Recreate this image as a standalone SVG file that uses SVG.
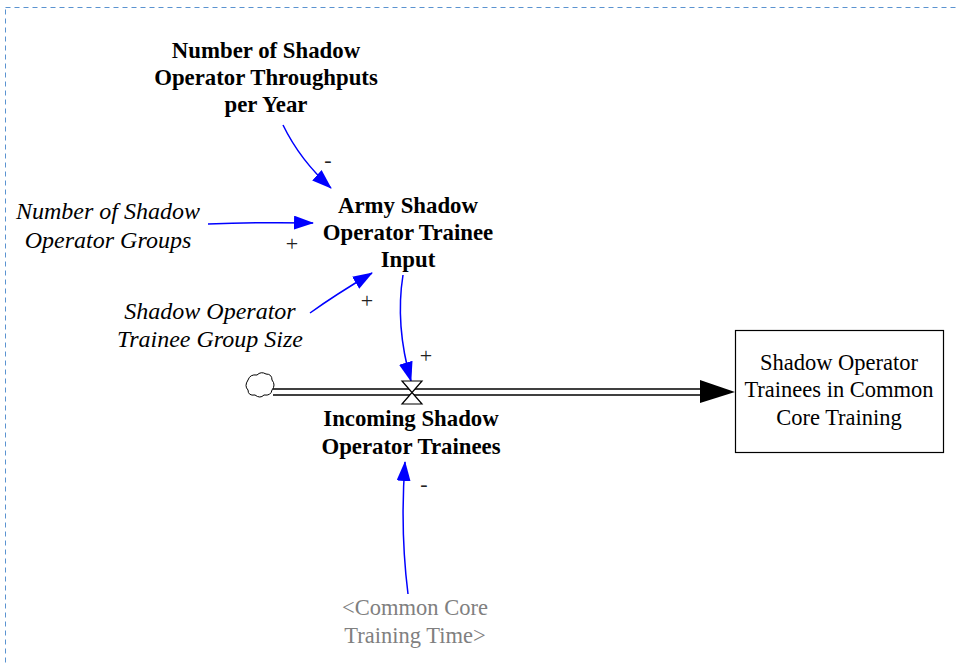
<svg xmlns="http://www.w3.org/2000/svg" width="956" height="664" viewBox="0 0 956 664">
<style>
text{font-family:"Liberation Serif","Times New Roman",serif;font-size:22.5px;text-anchor:middle;fill:#000}
.b{font-weight:bold;font-size:22.8px}
.i{font-style:italic;font-size:24px}
.g{fill:#808080}
.pol{font-family:"Liberation Serif","Times New Roman",serif;font-size:22px;fill:#222}
.lk{fill:none;stroke:#0000ff;stroke-width:1.5}
.pipe{fill:none;stroke:#000;stroke-width:1.3}
</style>
<defs>
<marker id="ah" markerWidth="20" markerHeight="14" refX="19" refY="7" orient="auto" markerUnits="userSpaceOnUse">
<path d="M0,0 L20,7 L0,14 Z" fill="#0000ff"/>
</marker>
</defs>
<rect id="border" x="5.5" y="7.5" width="1000" height="700" fill="none" stroke="#5b93d0" stroke-width="1" stroke-dasharray="5,4"/>

<g id="connectors">
<path class="lk" d="M283,125 Q300,160 331,188" marker-end="url(#ah)"/>
<path class="lk" d="M208,224 Q260,222 313,223" marker-end="url(#ah)"/>
<path class="lk" d="M310,313 Q335,295 372,273" marker-end="url(#ah)"/>
<path class="lk" d="M403,275 Q395,325 411,381" marker-end="url(#ah)"/>
<path class="lk" d="M408,594 Q400,530 405,462" marker-end="url(#ah)"/>
<text class="pol" x="328" y="167">-</text>
<text class="pol" x="292" y="251">+</text>
<text class="pol" x="367" y="308">+</text>
<text class="pol" x="426" y="363">+</text>
<text class="pol" x="424" y="491">-</text>
</g>

<g id="flow">
<path d="M248,380 q2,-6 9,-5 q4,-4 9,-1 q6,0 6,6 q4,5 0,10 q-1,6 -8,5 q-4,4 -9,0 q-7,1 -7,-5 q-4,-4 0,-10 Z" fill="#fff" stroke="#000" stroke-width="1"/>
<line class="pipe" x1="273" y1="389" x2="704" y2="389"/>
<line class="pipe" x1="273" y1="395" x2="704" y2="395"/>
<path d="M700,380 L735,392 L700,403 Z" fill="#000"/>
</g>

<g id="valve">
<path d="M402,381 L422,381 L402,404 L422,404 Z" fill="#fff" stroke="#000" stroke-width="1.2"/>
<text class="b" x="411" y="426">Incoming Shadow</text>
<text class="b" x="411" y="454">Operator Trainees</text>
</g>

<g id="stock">
<rect x="735.5" y="330.5" width="208" height="122" fill="#fff" stroke="#000" stroke-width="1.2"/>
<text x="839" y="370">Shadow Operator</text>
<text x="839" y="397">Trainees in Common</text>
<text x="839" y="425">Core Training</text>
</g>

<g id="throughputs">
<text class="b" x="266" y="58">Number of Shadow</text>
<text class="b" x="266" y="85">Operator Throughputs</text>
<text class="b" x="266" y="112">per Year</text>
</g>

<g id="army_input">
<text class="b" x="408" y="213">Army Shadow</text>
<text class="b" x="408" y="240">Operator Trainee</text>
<text class="b" x="408" y="267">Input</text>
</g>

<g id="groups">
<text class="i" x="108" y="219">Number of Shadow</text>
<text class="i" x="108" y="248">Operator Groups</text>
</g>

<g id="group_size">
<text class="i" x="210" y="319">Shadow Operator</text>
<text class="i" x="210" y="347">Trainee Group Size</text>
</g>

<g id="cc_time">
<text class="g" x="415" y="615">&lt;Common Core</text>
<text class="g" x="415" y="643">Training Time&gt;</text>
</g>
</svg>
